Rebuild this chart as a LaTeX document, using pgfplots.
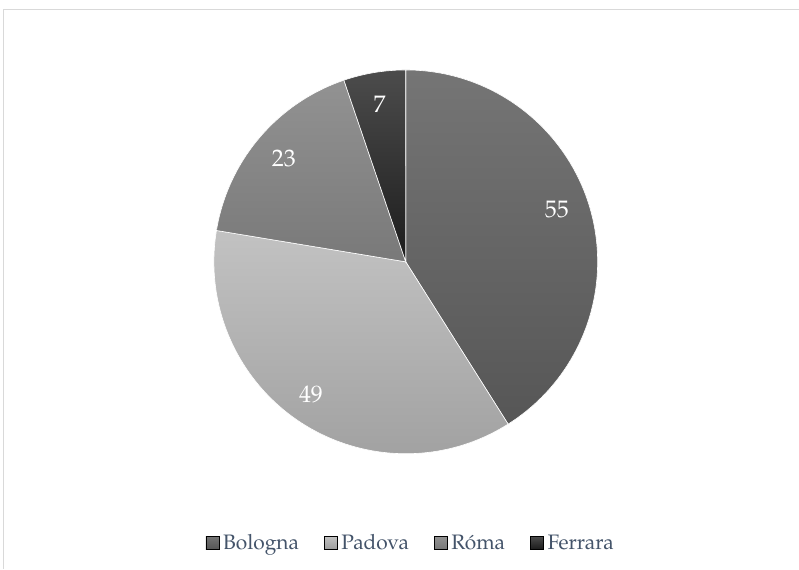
\documentclass[border=0pt]{standalone}
\usepackage{fontspec}
\setmainfont{texgyrepagella}[Extension=.otf, UprightFont=*-regular]
\usepackage{pgfplots}
\usepackage{pgfplotstable}
\pgfplotsset{compat=1.18}

\definecolor{legtext}{HTML}{44546A}
\definecolor{borderc}{HTML}{D9D9D9}
\definecolor{bolT}{HTML}{757575}\definecolor{bolB}{HTML}{565656}
\definecolor{padT}{HTML}{C2C2C2}\definecolor{padB}{HTML}{9E9E9E}
\definecolor{romT}{HTML}{929292}\definecolor{romB}{HTML}{797979}
\definecolor{ferT}{HTML}{4C4C4C}\definecolor{ferB}{HTML}{1C1C1C}

\pgfplotstableread{
name value
Bologna 55
Padova 49
Roma 23
Ferrara 7
}\piedata

\pgfplotstablegetelem{0}{value}\of\piedata \edef\va{\pgfplotsretval}
\pgfplotstablegetelem{1}{value}\of\piedata \edef\vb{\pgfplotsretval}
\pgfplotstablegetelem{2}{value}\of\piedata \edef\vc{\pgfplotsretval}
\pgfplotstablegetelem{3}{value}\of\piedata \edef\vd{\pgfplotsretval}
\pgfmathsetmacro\total{\va+\vb+\vc+\vd}
\pgfmathsetmacro\unitang{360/\total}
\pgfmathsetmacro\aA{90}
\pgfmathsetmacro\aB{\aA-\unitang*\va}
\pgfmathsetmacro\aC{\aB-\unitang*\vb}
\pgfmathsetmacro\aD{\aC-\unitang*\vc}
\pgfmathsetmacro\aE{\aD-\unitang*\vd}
\pgfmathsetmacro\mA{(\aA+\aB)/2+3}
\pgfmathsetmacro\mB{(\aB+\aC)/2-2}
\pgfmathsetmacro\mC{(\aC+\aD)/2}
\pgfmathsetmacro\mD{(\aD+\aE)/2}

\def\cx{406}\def\cy{307}\def\R{192}\def\L{160}

\newcommand{\slice}[4]{%
  \shade[top color=#3, bottom color=#4, draw=white, line width=0.6bp]
    (axis cs:\cx,\cy) -- (axis cs:{\cx+\R*cos(#1)},{\cy+\R*sin(#1)})
    arc[start angle=#1, end angle=#2, radius=\R bp] -- cycle;}

\begin{document}
\begin{tikzpicture}
\begin{axis}[
  scale only axis, width=799bp, height=569bp,
  xmin=0, xmax=799, ymin=0, ymax=569,
  hide axis, clip=false,
  legend columns=4,
  legend style={at={(axis cs:410,26)}, anchor=center, draw=none, fill=none,
    font=\fontsize{21}{24}\selectfont, text=legtext,
    /tikz/every odd column/.append style={column sep=4bp},
    /tikz/every even column/.append style={column sep=25bp},
    /tikz/every node/.append style={inner xsep=0bp}},
  legend cell align=left,
]
\path (axis cs:0,0) rectangle (axis cs:799,569);
\draw[borderc, line width=1bp] (axis cs:4,0) -- (axis cs:4,559.5) -- (axis cs:799,559.5);

\slice{\aA}{\aB}{bolT}{bolB}
\slice{\aB}{\aC}{padT}{padB}
\slice{\aC}{\aD}{romT}{romB}
\slice{\aD}{\aE}{ferT}{ferB}

\node[text=white, font=\fontsize{24}{26}\selectfont] at (axis cs:{\cx+\L*cos(\mA)},{\cy+\L*sin(\mA)}) {\va};
\node[text=white, font=\fontsize{24}{26}\selectfont] at (axis cs:{\cx+163*cos(\mB)},{\cy+163*sin(\mB)}) {\vb};
\node[text=white, font=\fontsize{24}{26}\selectfont] at (axis cs:{\cx+\L*cos(\mC)},{\cy+\L*sin(\mC)}) {\vc};
\node[text=white, font=\fontsize{24}{26}\selectfont] at (axis cs:{\cx+\L*cos(\mD)},{\cy+\L*sin(\mD)}) {\vd};

\addlegendimage{legend image code/.code={\shade[top color=bolT, bottom color=bolB] (0bp,-6.5bp) rectangle (13bp,6.5bp);}}
\addlegendentry{Bologna}
\addlegendimage{legend image code/.code={\shade[top color=padT, bottom color=padB] (0bp,-6.5bp) rectangle (13bp,6.5bp);}}
\addlegendentry{Padova}
\addlegendimage{legend image code/.code={\shade[top color=romT, bottom color=romB] (0bp,-6.5bp) rectangle (13bp,6.5bp);}}
\addlegendentry{Róma}
\addlegendimage{legend image code/.code={\shade[top color=ferT, bottom color=ferB] (0bp,-6.5bp) rectangle (13bp,6.5bp);}}
\addlegendentry{Ferrara}
\end{axis}
\end{tikzpicture}
\end{document}
